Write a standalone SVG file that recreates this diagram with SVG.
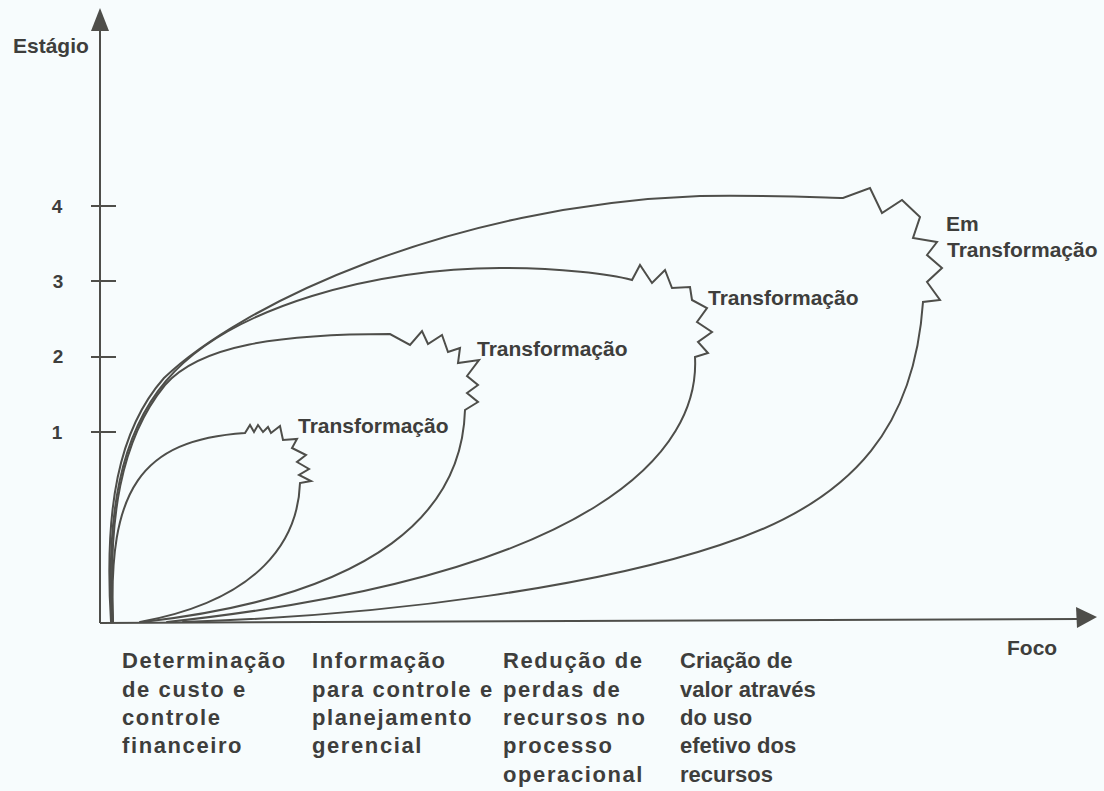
<svg xmlns="http://www.w3.org/2000/svg" width="1104" height="791" viewBox="0 0 1104 791">
<defs>
<style>
.ln{fill:none;stroke:#4e4e4a;stroke-width:2;stroke-linejoin:miter;stroke-linecap:round}
.ax{fill:none;stroke:#4e4e4a;stroke-width:2}
.t{font-family:"Liberation Sans",Arial,sans-serif;font-weight:bold;font-size:21px;fill:#3e3e3c}
.b{font-family:"Liberation Sans",Arial,sans-serif;font-weight:bold;font-size:22px;fill:#3e3e3c;letter-spacing:1.6px}
.b4{letter-spacing:0px}
.n{font-family:"Liberation Sans",Arial,sans-serif;font-weight:bold;font-size:19px;fill:#3e3e3c;text-anchor:middle}
</style>
</defs>
<rect x="0" y="0" width="1104" height="791" fill="#f7fcfd"/>
<g id="axes">
<line class="ax" x1="100" y1="623" x2="100" y2="28"/>
<polygon points="100,8 91,31 109,31" fill="#4e4e4a"/>
<line class="ax" x1="100" y1="623" x2="1080" y2="619"/>
<polygon points="1097,617 1076,607 1077,628" fill="#4e4e4a"/>
<line class="ax" x1="91" y1="206" x2="116" y2="206"/>
<line class="ax" x1="91" y1="281" x2="116" y2="281"/>
<line class="ax" x1="91" y1="357" x2="116" y2="357"/>
<line class="ax" x1="91" y1="432" x2="116" y2="432"/>
<text class="n" x="57" y="213">4</text>
<text class="n" x="58" y="288">3</text>
<text class="n" x="58" y="363">2</text>
<text class="n" x="57" y="439">1</text>
<text class="t" x="13" y="53">Estágio</text>
<text class="t" x="1007" y="655">Foco</text>
</g>
<g id="connectors">
<path id="curve1" class="ln" d="M113,622 C108,490 140,440 245,433 L250,425 254,432 258,425 263,432 268,427 271,433 280,426 283,440 297,439 292,448 306,455 297,462 309,469 299,475 311,481 300,483 C298,540 260,600 140,622"/>
<path id="curve2" class="ln" d="M113,622 C108,520 120,440 165,385 C200,345 280,334 390,334 L410,345 422,331 428,344 442,335 448,352 460,348 458,363 479,360 467,376 478,385 467,393 478,402 465,410 C462,510 380,595 143,622"/>
<path id="curve3" class="ln" d="M112,622 C106,515 120,435 166,381 C230,305 380,268 500,268 C560,268 610,274 632,280 L640,265 652,283 665,270 672,288 690,287 692,300 707,308 697,322 712,332 698,342 708,353 695,357 C700,450 600,575 167,622"/>
<path id="curve4" class="ln" d="M111,622 C104,510 118,430 164,378 C240,305 450,205 700,196 C780,195 830,198 843,198 L870,188 882,213 902,200 920,217 913,238 937,242 927,255 942,268 927,282 940,300 923,302 C915,420 860,500 720,545 C600,585 400,615 183,622"/>
</g>
<g id="labels">
<text class="t" x="298" y="433">Transformação</text>
<text class="t" x="477" y="356">Transformação</text>
<text class="t" x="708" y="305">Transformação</text>
<text class="t" x="946" y="231">Em</text>
<text class="t" x="947" y="257">Transformação</text>
</g>
<g id="focus-labels">
<text class="b" x="122" y="668">Determinação</text>
<text class="b" x="122" y="697">de custo e</text>
<text class="b" x="122" y="725">controle</text>
<text class="b" x="122" y="753">financeiro</text>
<text class="b" x="312" y="668">Informação</text>
<text class="b" x="312" y="697">para controle e</text>
<text class="b" x="312" y="725">planejamento</text>
<text class="b" x="312" y="753">gerencial</text>
<text class="b" x="503" y="668">Redução de</text>
<text class="b" x="503" y="697">perdas de</text>
<text class="b" x="503" y="725">recursos no</text>
<text class="b" x="503" y="753">processo</text>
<text class="b" x="503" y="782">operacional</text>
<text class="b b4" x="680" y="668">Criação de</text>
<text class="b b4" x="680" y="697">valor através</text>
<text class="b b4" x="680" y="725">do uso</text>
<text class="b b4" x="680" y="753">efetivo dos</text>
<text class="b b4" x="680" y="782">recursos</text>
</g>
</svg>
